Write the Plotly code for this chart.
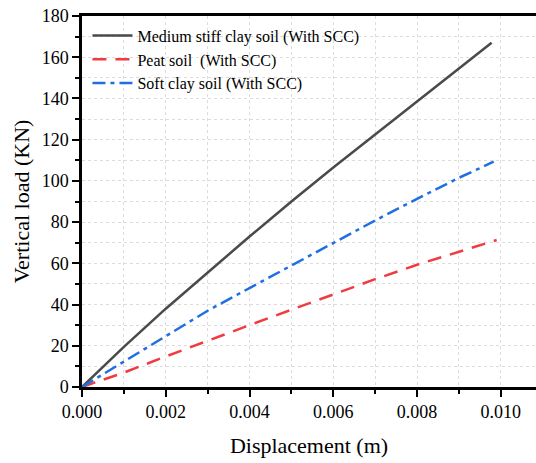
import plotly.graph_objects as go

x_medium = [0, 0.001, 0.002, 0.003, 0.004, 0.005, 0.006, 0.007, 0.008, 0.009, 0.00978]
y_medium = [0, 19.5, 38, 55.5, 73, 90, 106.5, 122.5, 138.5, 154.5, 167]

x_peat = [0, 0.001, 0.002, 0.003, 0.004, 0.005, 0.006, 0.007, 0.008, 0.009, 0.0099]
y_peat = [0, 7, 14.8, 22.5, 30, 37.5, 45, 52.3, 59.3, 65.6, 71.3]

x_soft = [0, 0.001, 0.002, 0.003, 0.004, 0.005, 0.006, 0.007, 0.008, 0.009, 0.00983]
y_soft = [0, 12.2, 24.8, 37, 48, 59, 70, 80.8, 91.3, 101.5, 109.3]

x_ticks = [0, 0.002, 0.004, 0.006, 0.008, 0.010]
x_ticklabels = ["0.000", "0.002", "0.004", "0.006", "0.008", "0.010"]
y_ticks = list(range(0, 181, 20))
y_ticklabels = [str(v) for v in y_ticks]

font = "Liberation Serif Regular"


def serif_label(t):
    return "<span style=\"font-family:'Liberation Serif Regular'\">" + t + "</span>"


fig = go.Figure()
fig.add_trace(go.Scatter(x=x_medium, y=y_medium, mode="lines",
                         name="Medium stiff clay soil (With SCC)",
                         line=dict(color="#4a4a4a", width=2.5)))
fig.add_trace(go.Scatter(x=x_peat, y=y_peat, mode="lines",
                         name="Peat soil  (With SCC)",
                         line=dict(color="#f03c41", width=2.5, dash="14px,9px")))
fig.add_trace(go.Scatter(x=x_soft, y=y_soft, mode="lines",
                         name="Soft clay soil (With SCC)",
                         line=dict(color="#1f6fe3", width=2.5, dash="13px,5px,4px,5px")))

fig.update_layout(
    width=536, height=463,
    margin=dict(l=82, r=0, t=16, b=76),
    paper_bgcolor="white", plot_bgcolor="white",
    font=dict(family=font, color="black", size=18),
    showlegend=True,
    legend=dict(x=0.012, y=0.993, xanchor="left", yanchor="top",
                bgcolor="rgba(0,0,0,0)", font=dict(size=16, family=font, color="black"),
                tracegroupgap=0, itemwidth=40),
)
fig.update_xaxes(
    range=[0, 0.01084], tickvals=x_ticks,
    ticktext=[serif_label(t) for t in x_ticklabels],
    showline=True, linecolor="black", linewidth=2.5, mirror=True,
    ticks="outside", ticklen=7, tickwidth=2, tickcolor="black",
    showgrid=False, zeroline=False, automargin=False, ticklabeloverflow="allow",
    minor=dict(dtick=0.001, ticks="outside", ticklen=4, tickwidth=2,
               tickcolor="black", showgrid=True, gridcolor="#dcdcdc",
               griddash="dot", gridwidth=1),
    title=dict(text="Displacement (m)", font=dict(size=22, family=font, color="black"), standoff=17),
    tickfont=dict(size=18, family=font, color="black"),
)
fig.update_yaxes(
    range=[0, 180], tickvals=y_ticks,
    ticktext=[serif_label(t) for t in y_ticklabels],
    showline=True, linecolor="black", linewidth=2.5, mirror=False,
    ticks="outside", ticklen=7, tickwidth=2, tickcolor="black",
    showgrid=False, zeroline=False, automargin=False, ticklabeloverflow="allow",
    minor=dict(dtick=10, ticks="outside", ticklen=4, tickwidth=2,
               tickcolor="black", showgrid=True, gridcolor="#dcdcdc",
               griddash="dot", gridwidth=1),
    title=dict(text="Vertical load (KN)", font=dict(size=22, family=font, color="black"), standoff=6),
    tickfont=dict(size=18, family=font, color="black"),
)

fig.write_html("out.html", config={"displayModeBar": False},
               post_script="document.body.style.margin='0';")
